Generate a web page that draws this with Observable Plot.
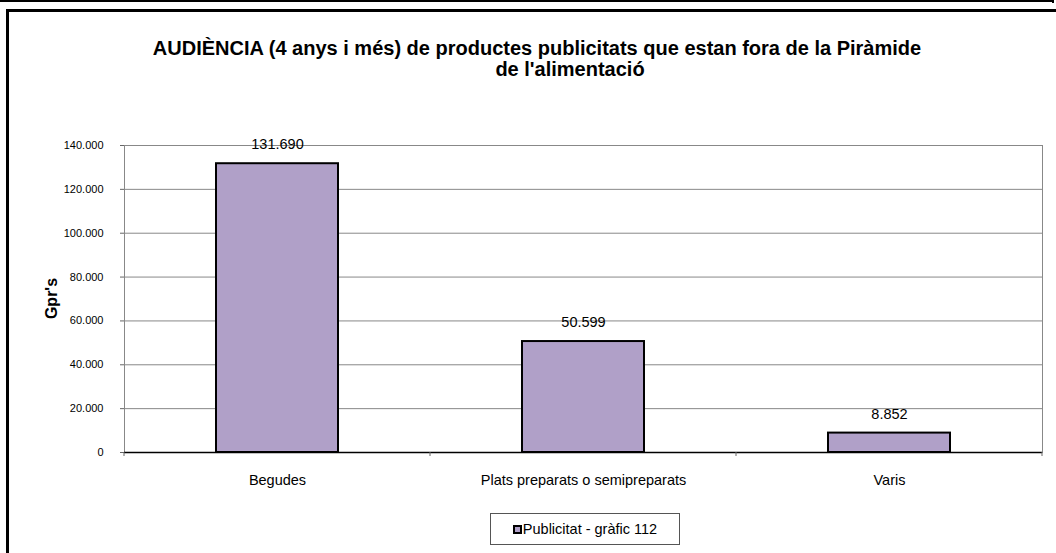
<!DOCTYPE html>
<html>
<head>
<meta charset="utf-8">
<script src="https://cdn.jsdelivr.net/npm/d3@7"></script>
<script src="https://cdn.jsdelivr.net/npm/@observablehq/plot@0.6"></script>
<style>
  html, body { margin: 0; padding: 0; background: #fff; overflow: hidden; }
  body { font-family: "Liberation Sans", Arial, sans-serif; }
  #wrap { position: relative; width: 1056px; height: 553px; overflow: hidden; }
  #outerTop { position: absolute; left: 0; top: 0; width: 1052px; height: 1px; border-top: 2px solid #000; border-right: 2px solid #000; }
  #frame { position: absolute; left: 6px; top: 9px; width: 1200px; height: 700px; border-left: 3px solid #000; border-top: 3px solid #000; }
  .tline { position: absolute; width: 1000px; text-align: center; font-weight: bold; font-size: 20px; line-height: 21px; color: #000; white-space: nowrap; }
  #t1 { left: 37px; top: 38px; }
  #t2 { left: 70px; top: 59px; }
  #chart { position: absolute; left: 0; top: 100px; }
  #legend { position: absolute; left: 490px; top: 513px; width: 188px; height: 30px; border: 1px solid #555; display: flex; align-items: center; justify-content: center; font-size: 14.5px; color: #000; background: #fff; }
  #legend .sw { display: inline-block; width: 5px; height: 5px; border: 2px solid #000; margin-right: 1px; }
</style>
</head>
<body>
<div id="wrap">
  <div id="outerTop"></div>
  <div id="frame"></div>
  <div class="tline" id="t1"></div>
  <div class="tline" id="t2"></div>
  <div id="chart"></div>
  <div id="legend"><span class="sw" id="sw"></span><span id="legtext"></span></div>
</div>
<script>
// ---- data ----
const titleLines = ["AUDIÈNCIA (4 anys i més) de productes publicitats que estan fora de la Piràmide", "de l'alimentació"];
const categories = ["Begudes", "Plats preparats o semipreparats", "Varis"];
const values = [131690, 50599, 8852];
const yTicks = [0, 20000, 40000, 60000, 80000, 100000, 120000, 140000];
const seriesName = "Publicitat - gràfic 112";
const yLabel = "Gpr's";

const barColor = "#B0A0C8";
const locale = d3.formatLocale({decimal: ",", thousands: ".", grouping: [3], currency: ["", "€"]});
const fmt = locale.format(",");

const data = categories.map((c, i) => ({cat: c, value: values[i]}));

document.getElementById("t1").textContent = titleLines[0];
document.getElementById("t2").textContent = titleLines[1];

const chart = Plot.plot({
  width: 1056,
  height: 400,
  marginLeft: 124,
  marginRight: 14,
  marginTop: 45,
  marginBottom: 48,
  style: {fontFamily: '"Liberation Sans", Arial, sans-serif', fontSize: "11px", background: "transparent", color: "#000"},
  x: {domain: categories, paddingInner: 0.6, paddingOuter: 0.3, axis: null},
  y: {domain: [0, 140000], axis: null},
  marks: [
    Plot.gridY(yTicks, {stroke: "#888", strokeOpacity: 1}),
    Plot.frame({stroke: "#888"}),
    Plot.ruleX([0], {frameAnchor: "left", stroke: "#666"}),
    Plot.axisY({ticks: yTicks, tickSize: 4, tickPadding: 17, tickFormat: fmt, fontSize: 11, stroke: "#666", label: null}),
    Plot.axisX({tickSize: 0, tickPadding: 22, fontSize: 14.5, label: null}),
    Plot.barY(data, {x: "cat", y: "value", fill: barColor, stroke: "#000", strokeWidth: 2}),
    Plot.ruleY([0], {stroke: "#000", strokeWidth: 1.5}),
    Plot.text(data, {x: "cat", y: "value", text: d => fmt(d.value), dy: -19, fontSize: 14.5, fill: "#000"})
  ]
});

document.getElementById("chart").appendChild(chart);

// category boundary ticks and y label, positioned from Plot's scales
const xs = chart.scale("x");
const ys = chart.scale("y");
const svg = d3.select(chart);
const y0 = ys.apply(0);
const bounds = categories.map(c => xs.apply(c) - (xs.step - xs.bandwidth) / 2);
bounds.push(xs.apply(categories[categories.length - 1]) + xs.bandwidth + (xs.step - xs.bandwidth) / 2);
svg.append("g").selectAll("line").data(bounds).join("line")
  .attr("x1", d => d).attr("x2", d => d)
  .attr("y1", y0).attr("y2", y0 + 4)
  .attr("stroke", "#666");

const yMid = (ys.range[0] + ys.range[1]) / 2;
svg.append("text")
  .attr("transform", `translate(53,${yMid}) rotate(-90)`)
  .attr("text-anchor", "middle")
  .attr("dominant-baseline", "middle")
  .attr("font-weight", "bold")
  .attr("font-size", 16)
  .attr("fill", "#000")
  .text(yLabel);

document.getElementById("sw").style.background = barColor;
document.getElementById("legtext").textContent = seriesName;
</script>
</body>
</html>
